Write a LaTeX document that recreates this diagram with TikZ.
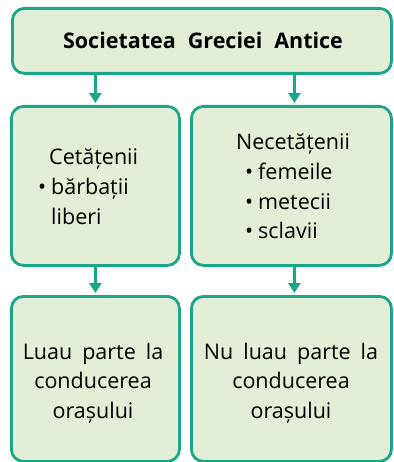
\documentclass[tikz,border=0pt]{standalone}
\usepackage{fontspec}
\setmainfont{Open Sans}
\usetikzlibrary{arrows.meta}
\definecolor{boxfill}{HTML}{E2EFD6}
\definecolor{edgeteal}{HTML}{1BA68C}
\newcommand{\bul}{\makebox[13pt][l]{\textbullet}}
\newcommand{\txtfont}{\fontsize{21.5}{29.5}\selectfont\spaceskip=10pt\relax}
\newcommand{\ttlfont}{\fontsize{21.5}{29}\selectfont\bfseries\spaceskip=12pt\relax}
\begin{document}
\begin{tikzpicture}[x=1pt,y=-1pt,
  box/.style={draw=edgeteal, line width=2.8pt, fill=boxfill, rounded corners=12pt, inner sep=0pt},
  arr/.style={draw=edgeteal, line width=2.6pt, -{Triangle[width=12pt,length=10pt]}, shorten >=2pt},
  txt/.style={font=\txtfont, inner sep=0pt},
  ttl/.style={font=\ttlfont, inner sep=0pt}]
\useasboundingbox (0,0) rectangle (393,462);
\node[box, minimum width=379pt, minimum height=65pt, anchor=north west] (top) at (11,7) {};
\node[box, minimum width=168pt, minimum height=159pt, anchor=north west] (ml) at (10,105) {};
\node[box, minimum width=200pt, minimum height=159pt, anchor=north west] (mr) at (190,105) {};
\node[box, minimum width=168pt, minimum height=165pt, anchor=north west] (bl) at (10,295) {};
\node[box, minimum width=200pt, minimum height=165pt, anchor=north west] (br) at (190,295) {};
\node[ttl, anchor=base] (toptxt) at (203,49) {Societatea Greciei Antice};
\node[txt, anchor=base west] (mltxt) at (38,165) {\begin{tabular}[t]{@{}l@{}}\hspace*{11pt}Cetățenii\\ \bul bărbații\\ \hspace*{13pt}liberi\end{tabular}};
\node[txt, anchor=base west] (mrtxt) at (236,150) {\begin{tabular}[t]{@{}l@{}}Necetățenii\\ \hspace*{9pt}\bul femeile\\ \hspace*{9pt}\bul metecii\\ \hspace*{9pt}\bul sclavii\end{tabular}};
\node[txt, anchor=base] (bltxt) at (93,359) {\begin{tabular}[t]{@{}c@{}}Luau parte la\\ conducerea\\ orașului\end{tabular}};
\node[txt, anchor=base] (brtxt) at (291,359) {\begin{tabular}[t]{@{}c@{}}Nu luau parte la\\ conducerea\\ orașului\end{tabular}};
\draw[arr] (top.south -| ml.north) -- (ml.north);
\draw[arr] ([xshift=3pt]top.south -| mr.north) -- ([xshift=3pt]mr.north);
\draw[arr] (ml.south) -- (bl.north);
\draw[arr] ([xshift=3pt]mr.south) -- ([xshift=3pt]br.north);
\end{tikzpicture}
\end{document}
